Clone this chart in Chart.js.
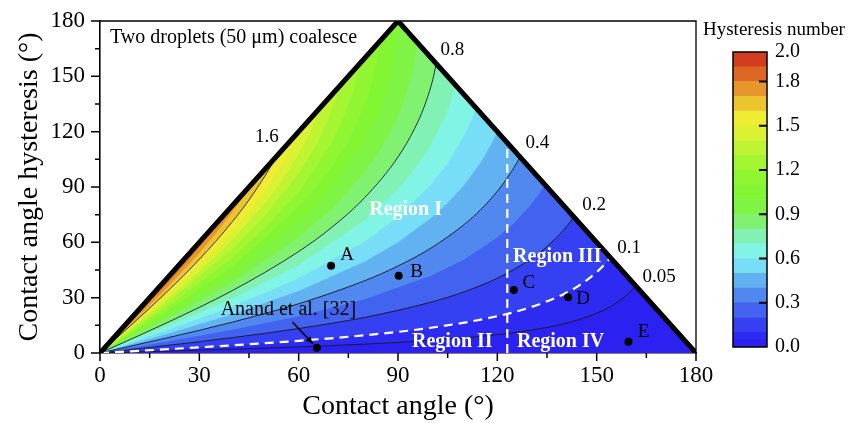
<!DOCTYPE html>
<html><head><meta charset="utf-8">
<script src="https://cdn.jsdelivr.net/npm/chart.js@4"></script>
<style>
html,body{margin:0;padding:0;background:#fff;}
#wrap{position:relative;width:848px;height:423px;overflow:hidden;}
#main{position:absolute;left:0;top:0;}
#bar{position:absolute;left:690px;top:0;}
</style></head><body>
<div id="wrap">
<canvas id="main" width="848" height="423"></canvas>
<canvas id="bar" width="158" height="423"></canvas>
</div>
<script>
// ---------------- data ----------------
// triangle of admissible (contact angle, hysteresis) pairs
const triangle = [[0,0],[90,180],[180,0]];
// hysteresis-number levels and their contour lines [contact angle, hysteresis]
const levels = [0.05,0.1,0.2,0.3,0.4,0.5,0.6,0.7,0.8,0.9,1.0,1.1,1.2,1.3,1.4,1.5,1.6,1.7,1.8,1.9];
const h005 = [[0,0],[20,1.01],[40,2.09],[60,3.31],[80,4.81],[100,6.83],[120,9.94],[130,12.31],[140,15.79],[150,21.51],[155,26.07],[158,29.81],[160,32.95],[161.8,36.4]];
const h01 = [[0,0],[20,2.02],[40,4.17],[60,6.62],[80,9.63],[100,13.69],[120,19.95],[130,24.77],[140,31.89],[145,36.98],[150,43.83],[152,47.29],[153,49.23],[154.16,51.68]];
const h02 = [[0,0],[20,4.04],[40,8.35],[60,13.26],[80,19.32],[100,27.58],[110,33.19],[120,40.54],[130,50.8],[135,57.74],[140,66.66],[142,71.02],[143.13,73.74]];
const h03 = [[0,0],[20,6.07],[40,12.54],[60,19.95],[80,29.16],[100,41.9],[110,50.74],[120,62.61],[125,70.38],[130,80.09],[132,84.72],[134.43,91.14]];
const h04 = [[0,0],[20,8.09],[40,16.74],[60,26.71],[80,39.22],[90,47.16],[100,56.94],[110,69.68],[115,77.79],[120,87.71],[124,97.58],[126,103.45],[126.87,106.26]];
const h05 = [[0,0],[20,10.12],[40,20.97],[60,33.56],[80,49.61],[90,60],[100,73.15],[105,81.33],[110,91.13],[115,103.41],[118,112.64],[119,116.17],[120,120]];
const h06 = [[0,0],[20,12.15],[40,25.23],[60,40.54],[80,60.46],[90,73.74],[100,91.29],[105,102.88],[110,117.94],[112,125.63],[113,130.05],[113.58,132.84]];
const h07 = [[0,0],[20,14.18],[40,29.52],[60,47.68],[80,71.94],[90,88.85],[95,99.62],[100,113.07],[104,127.26],[106,136.53],[107,142.17],[107.46,145.08]];
const h08 = [[0,0],[20,16.22],[40,33.86],[60,55.02],[70,68.13],[80,84.33],[90,106.26],[95,121.63],[98,133.94],[100,144.88],[101,152.09],[101.54,156.92]];
const h09 = [[0,0],[20,18.26],[40,38.24],[60,62.61],[70,78.13],[80,98.08],[85,111.12],[90,128.32],[93,143.03],[95,158.33],[95.5,164.47],[95.74,168.52]];
const h10 = [[0,0],[20,20.31],[40,42.69],[60,70.53],[70,88.89],[80,114.09],[85,132.79],[88,149.9],[89,158.65],[89.7,168.28],[90,180]];
const h11 = [[0,0],[20,22.37],[40,47.2],[60,78.85],[70,100.75],[75,115.14],[80,134.74],[82,145.97],[83.5,158.1],[84,164.15],[84.26,168.52]];
const h12 = [[0,0],[20,24.43],[40,51.8],[50,68.05],[60,87.71],[65,99.72],[70,114.33],[74,129.45],[77,145.31],[78,152.69],[78.46,156.92]];
const h13 = [[0,0],[20,26.5],[40,56.48],[50,74.63],[60,97.28],[65,111.83],[68,122.53],[71,136.03],[72,141.64],[72.54,145.08]];
const h14 = [[0,0],[20,28.58],[30,44.07],[40,61.27],[50,81.51],[55,93.57],[60,107.86],[63,118.17],[65,126.23],[66.42,132.84]];
const h15 = [[0,0],[10,15.08],[20,30.67],[30,47.4],[40,66.18],[45,76.83],[50,88.77],[55,102.68],[58,112.5],[59,116.13],[60,120]];
const h16 = [[0,0],[10,16.09],[20,32.78],[30,50.77],[40,71.23],[45,83.02],[50,96.5],[52,102.59],[53.13,106.26]];
const h17 = [[0,0],[10,17.11],[20,34.89],[30,54.2],[35,64.82],[40,76.45],[43,84.08],[44.5,88.13],[45.57,91.14]];
const h18 = [[0,0],[10,18.12],[20,37.01],[25,47.04],[30,57.67],[34,66.78],[36.87,73.74]];
const h19 = [[0,0],[5,9.52],[10,19.14],[15,28.97],[20,39.15],[24,47.64],[25.84,51.68]];
const levelCurves = [h005,h01,h02,h03,h04,h05,h06,h07,h08,h09,h10,h11,h12,h13,h14,h15,h16,h17,h18,h19];
// measured cases
const caseNames = ['A','B','C','D','E'];
const caseAngle = [69.8,90.2,125,141.4,159.6];
const caseHyst = [47.3,41.9,34.1,30.2,6.1];
const anandPoint = [65.5,2.9];
// region boundary at contact angle 123 deg
const boundaryAngle = 123;
// tick labels
const axisTicks = [0,30,60,90,120,150,180];
const barTicks = [0,0.3,0.6,0.9,1.2,1.5,1.8,2.0];
const barRange = [0,2];

// ---------------- styles ----------------
const FONT = "'Liberation Serif','Times New Roman',serif";
Chart.defaults.font.family = FONT;
Chart.defaults.color = '#000';
const bandColors = ['#2b22f2','#2d2af2','#3440f1','#4262f0','#5088f0','#62b2f2','#78def8','#82f4e6','#82f2b4','#80f270','#80f444','#82f632','#90f632','#a4f632','#bef432','#daf232','#f0ec34','#ecc430','#e6962a','#de6624','#d43c20'];

const xy = pts => pts.map(p => ({x: p[0], y: p[1]}));
const datasets = [];
// base fill = whole triangle
datasets.push({data: xy(triangle.concat([triangle[0]])), showLine: true, fill: 'shape', backgroundColor: bandColors[0], borderWidth: 0, pointRadius: 0, order: 200, clip: 0});
levelCurves.forEach((c, i) => {
  const poly = c.slice();
  if (levels[i] < 1) poly.push(triangle[1]);
  poly.push(triangle[0]);
  datasets.push({data: xy(poly), showLine: true, fill: 'shape', backgroundColor: bandColors[i + 1], borderWidth: 0, pointRadius: 0, order: 190 - i, clip: 0});
});
// black contour lines
[h16, h08, h04, h02, h005].forEach(c => {
  datasets.push({data: xy(c), showLine: true, fill: false, borderColor: '#1a1a1a', borderWidth: 0.9, pointRadius: 0, cubicInterpolationMode: 'monotone', order: 50, clip: 0});
});
// white dashed 0.1 contour
datasets.push({data: xy(h01), showLine: true, fill: false, borderColor: '#ffffff', borderWidth: 2.2, borderDash: [9, 6], pointRadius: 0, cubicInterpolationMode: 'monotone', order: 40, clip: 0});
// white dashed vertical boundary
datasets.push({data: [{x: boundaryAngle, y: 0}, {x: boundaryAngle, y: 2 * (180 - boundaryAngle)}], showLine: true, fill: false, borderColor: '#ffffff', borderWidth: 2.2, borderDash: [9, 6], pointRadius: 0, order: 40, clip: 0});
// thick triangle edges
datasets.push({data: xy(triangle), showLine: true, fill: false, borderColor: '#000', borderWidth: 5, pointRadius: 0, order: 30, clip: 0, borderJoinStyle: 'miter'});
// case points
datasets.push({data: caseAngle.map((a, i) => ({x: a, y: caseHyst[i]})).concat([{x: anandPoint[0], y: anandPoint[1]}]), showLine: false, pointRadius: 4, pointBackgroundColor: '#000', pointBorderColor: '#000', pointBorderWidth: 0, order: 10});

// annotations (data coordinates) and pixel offsets
const contourLabels = [['1.6', 50.4, 117.2], ['0.8', 106.4, 164.2], ['0.4', 132.1, 113.7], ['0.2', 149.2, 80.2], ['0.1', 159.8, 56.7], ['0.05', 168.9, 41.0]];
const regionLabels = [['Region I', 92.3, 77.5], ['Region II', 106.4, 6.1], ['Region III', 138.1, 51.9], ['Region IV', 139.1, 6.1]];
const caseOffsets = [[16, -11], [18, -4], [15, -7], [15, 2], [15, -10]];

const overlay = {
  id: 'overlay',
  afterDraw(chart) {
    const {ctx, chartArea: a, scales: {x, y}} = chart;
    const px = v => x.getPixelForValue(v), py = v => y.getPixelForValue(v);
    ctx.save();
    // frame top/right
    ctx.strokeStyle = '#000';
    ctx.lineWidth = 1.3;
    ctx.beginPath();
    ctx.moveTo(a.left, a.top); ctx.lineTo(a.right, a.top); ctx.lineTo(a.right, a.bottom);
    ctx.stroke();
    // tick marks (major every 30, minor every 15)
    ctx.lineWidth = 1.5;
    for (let v = 0; v <= 180; v += 15) {
      const major = v % 30 === 0;
      const xp = px(v), yp = py(v);
      ctx.beginPath();
      ctx.moveTo(xp, a.bottom); ctx.lineTo(xp, a.bottom + (major ? 8 : 5));
      ctx.moveTo(a.left, yp); ctx.lineTo(a.left - (major ? 9 : 5), yp);
      ctx.stroke();
    }
    ctx.textAlign = 'center';
    ctx.textBaseline = 'middle';
    // contour labels
    ctx.fillStyle = '#000';
    ctx.font = `19px ${FONT}`;
    contourLabels.forEach(([t, a1, h]) => ctx.fillText(t, px(a1), py(h)));
    // case labels
    ctx.font = `19px ${FONT}`;
    caseNames.forEach((n, i) => ctx.fillText(n, px(caseAngle[i]) + caseOffsets[i][0], py(caseHyst[i]) + caseOffsets[i][1]));
    // Anand label + arrow
    ctx.font = `20px ${FONT}`;
    ctx.fillText('Anand et al. [32]', px(56.9), py(23.3));
    const ax0 = px(58.1), ay0 = py(16.8), ax1 = px(64.3), ay1 = py(5.0);
    ctx.lineWidth = 1.6;
    ctx.beginPath(); ctx.moveTo(ax0, ay0); ctx.lineTo(ax1, ay1); ctx.stroke();
    const ang = Math.atan2(ay1 - ay0, ax1 - ax0);
    ctx.beginPath();
    ctx.moveTo(ax1, ay1);
    ctx.lineTo(ax1 - 8 * Math.cos(ang - 0.4), ay1 - 8 * Math.sin(ang - 0.4));
    ctx.lineTo(ax1 - 8 * Math.cos(ang + 0.4), ay1 - 8 * Math.sin(ang + 0.4));
    ctx.closePath(); ctx.fill();
    // region labels
    ctx.fillStyle = '#fff';
    ctx.font = `bold 20px ${FONT}`;
    regionLabels.forEach(([t, a1, h]) => ctx.fillText(t, px(a1), py(h)));
    // panel title
    ctx.fillStyle = '#000';
    ctx.textAlign = 'left';
    ctx.font = `20px ${FONT}`;
    ctx.fillText('Two droplets (50 \u03bcm) coalesce', a.left + 10, a.top + 17);
    ctx.restore();
  }
};

new Chart(document.getElementById('main'), {
  type: 'scatter',
  data: {datasets},
  options: {
    responsive: false, animation: false, events: [],
    layout: {padding: {top: 21, right: 152, bottom: 0, left: 0}},
    plugins: {legend: {display: false}, tooltip: {enabled: false}},
    scales: {
      x: {
        type: 'linear', min: 0, max: 180,
        afterBuildTicks: s => { s.ticks = axisTicks.map(v => ({value: v})); },
        afterFit: s => { s.height = 70; },
        ticks: {font: {size: 23}, padding: 1, maxRotation: 0, autoSkip: false},
        grid: {drawOnChartArea: false, drawTicks: true, tickLength: 8, color: 'rgba(0,0,0,0)'},
        border: {display: true, color: '#000', width: 1.6},
        title: {display: true, text: 'Contact angle (\u00b0)', font: {size: 28}, padding: {top: 0, bottom: 0}}
      },
      y: {
        type: 'linear', min: 0, max: 180,
        afterBuildTicks: s => { s.ticks = axisTicks.map(v => ({value: v})); },
        afterFit: s => { s.width = 100; },
        ticks: {font: {size: 23}, padding: 6, autoSkip: false},
        grid: {drawOnChartArea: false, drawTicks: true, tickLength: 9, color: 'rgba(0,0,0,0)'},
        border: {display: true, color: '#000', width: 1.6},
        title: {display: true, text: 'Contact angle hysteresis (\u00b0)', font: {size: 28}, padding: {top: 13, bottom: 0}}
      }
    }
  },
  plugins: [overlay]
});

// ---------------- colour bar ----------------
const bandEdges = [0].concat(levels, [2.0]);
const barOverlay = {
  id: 'barOverlay',
  afterDraw(chart) {
    const {ctx, chartArea: a, scales: {y}} = chart;
    ctx.save();
    ctx.strokeStyle = '#000';
    ctx.lineWidth = 1.5;
    ctx.strokeRect(a.left, a.top, a.right - a.left, a.bottom - a.top);
    ctx.lineWidth = 2;
    barTicks.forEach(v => {
      if (v <= barRange[0] || v >= barRange[1]) return;
      const yp = y.getPixelForValue(v);
      ctx.beginPath(); ctx.moveTo(a.right, yp); ctx.lineTo(a.right - 8, yp); ctx.stroke();
    });
    ctx.fillStyle = '#000';
    ctx.font = `19px ${FONT}`;
    ctx.textAlign = 'left';
    ctx.textBaseline = 'middle';
    ctx.fillText('Hysteresis number', 13, 30);
    ctx.restore();
  }
};
new Chart(document.getElementById('bar'), {
  type: 'bar',
  data: {
    labels: [''],
    datasets: bandColors.map((c, i) => ({data: [[bandEdges[i], bandEdges[i + 1]]], backgroundColor: c, grouped: false, barPercentage: 1, categoryPercentage: 1, borderWidth: 0}))
  },
  options: {
    responsive: false, animation: false, events: [],
    layout: {padding: {left: 43, top: 52, bottom: 76, right: 0}},
    plugins: {legend: {display: false}, tooltip: {enabled: false}},
    scales: {
      x: {display: false},
      y: {
        position: 'right', min: barRange[0], max: barRange[1],
        afterBuildTicks: s => { s.ticks = barTicks.map(v => ({value: v})); },
        afterFit: s => { s.width = 81; },
        ticks: {callback: v => Number(v).toFixed(1), padding: 8, font: {size: 20}, autoSkip: false},
        grid: {display: false, drawTicks: false},
        border: {display: false}
      }
    }
  },
  plugins: [barOverlay]
});
</script>
</body></html>
